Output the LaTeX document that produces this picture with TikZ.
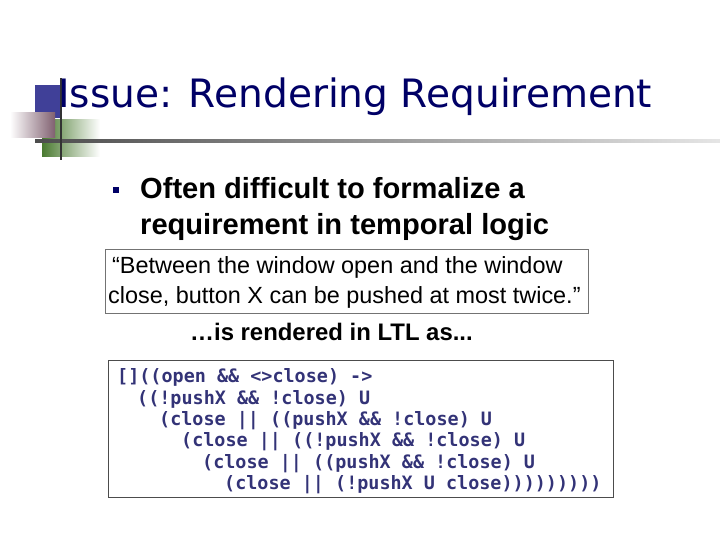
\documentclass[tikz,border=0pt]{standalone}
\usepackage{fontspec}
\setmainfont{Liberation Sans}
\newfontfamily\titlefont{DejaVu Sans}
\newfontfamily\codefont{DejaVu Sans Mono}
\definecolor{navy}{HTML}{000066}
\definecolor{codeblue}{HTML}{333377}
\definecolor{deco}{HTML}{404098}
\definecolor{decogreen}{HTML}{4A7A30}
\definecolor{decopink}{HTML}{806070}
\tikzset{
  codeline/.style={anchor=base west,text=codeblue,inner sep=0,font=\codefont\bfseries\fontsize{18.5}{20}\selectfont},
  bodytext/.style={anchor=base west,inner sep=0}
}
\begin{document}
\begin{tikzpicture}[x=1bp,y=-1bp]
\useasboundingbox (0,0) rectangle (720,540);
% decoration
\fill[left color=decogreen,right color=white] (42,120) rectangle (100,157);
\fill[deco] (35,85) rectangle (61,118);
\fill[left color=white,right color=decopink] (10,113) rectangle (55,138);
\shade[left color=black!70,right color=black!10] (35,140) rectangle (720,142.5);
\fill[black!80] (59.5,78) rectangle (62,160);
\node[anchor=base west,inner sep=0,text=navy,font=\titlefont\fontsize{38}{40}\selectfont] (title) at (58,108) {\resizebox{594bp}{!}{Issue: Rendering Requirement}};
% bullet
\node[fill=navy,minimum size=6bp,inner sep=0] (bul) at (116,190) {};
\node[bodytext,font=\bfseries\fontsize{29.2}{30}\selectfont] (b1) at (140,199) {Often difficult to formalize a};
\node[bodytext,font=\bfseries\fontsize{29.2}{30}\selectfont] (b2) at (140,235) {requirement in temporal logic};
% quote box
\draw[black!55,line width=0.8bp] (105,249) rectangle (588,313);
\node[bodytext,font=\fontsize{23.5}{26}\selectfont] (q1) at (112,274) {“Between the window open and the window};
\node[bodytext,font=\fontsize{23.5}{26}\selectfont] (q2) at (108,303) {close, button X can be pushed at most twice.”};
\node[bodytext,font=\bfseries\fontsize{24}{26}\selectfont] (r) at (190,340) {…is rendered in LTL as...};
% code box
\draw[black!70,line width=0.8bp] (108,360) rectangle (613,497);
\node[codeline] (c1) at (117,382) {[]((open \&\& <>close) ->};
\node[codeline] (c2) at (137,404) {((!pushX \&\& !close) U};
\node[codeline] (c3) at (159,425) {(close || ((pushX \&\& !close) U};
\node[codeline] (c4) at (181,446) {(close || ((!pushX \&\& !close) U};
\node[codeline] (c5) at (202,468) {(close || ((pushX \&\& !close) U};
\node[codeline] (c6) at (224,489) {(close || (!pushX U close)))))))))};
\end{tikzpicture}
\end{document}
